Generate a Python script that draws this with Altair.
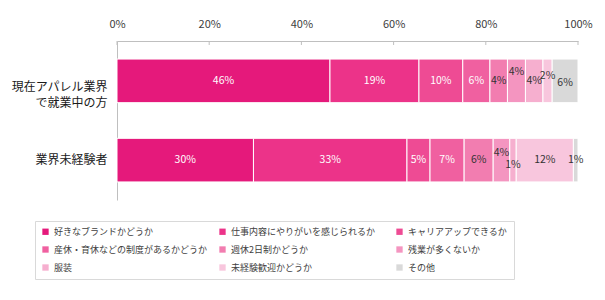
import altair as alt
import pandas as pd

groups = ["現在アパレル業界\nで就業中の方", "業界未経験者"]
categories = [
    "好きなブランドかどうか",
    "仕事内容にやりがいを感じられるか",
    "キャリアアップできるか",
    "産休・育休などの制度があるかどうか",
    "週休2日制かどうか",
    "残業が多くないか",
    "服装",
    "未経験歓迎かどうか",
    "その他",
]
current_workers = [46.2, 19.3, 9.5, 5.9, 3.8, 3.9, 3.8, 2.0, 5.6]
inexperienced = [29.6, 33.3, 5.0, 7.4, 6.3, 3.6, 1.4, 12.4, 1.0]
colors = ["#e5197b", "#ec3389", "#ee4b94", "#f060a0", "#f27db0",
          "#f495c0", "#f6afcf", "#f8c6dd", "#d9d9d9"]
x_ticks = [0, 0.2, 0.4, 0.6, 0.8, 1.0]
# small vertical nudges of crowded labels, as in the reference (pixels)
label_nudge_current = [0, 0, 0, 0, 0, -9, 0, -5, 2]
label_nudge_inexp = [0, 0, 0, 0, 0, -7, 5, 0, 0]

rows = []
for g, vals, nudges in [(groups[0], current_workers, label_nudge_current),
                        (groups[1], inexperienced, label_nudge_inexp)]:
    for i, (c, v, n) in enumerate(zip(categories, vals, nudges)):
        rows.append({"group": g, "category": c, "idx": i, "value": v / 100,
                     "label": f"{round(v)}%", "dy": n})
df = pd.DataFrame(rows)
ticks_df = pd.DataFrame({"t": x_ticks})

FONT = "Noto Sans CJK JP"
PAD_INNER = 0.45
PAD_OUTER = 0.228

x_scale = alt.Scale(domain=[0, 1], nice=False)
y_scale = alt.Scale(paddingInner=PAD_INNER, paddingOuter=PAD_OUTER)

base = alt.Chart(df).transform_stack(
    stack="value", groupby=["group"], as_=["v0", "v1"],
    sort=[alt.SortField("idx", order="ascending")]
).transform_calculate(mid="(datum.v0 + datum.v1) / 2")

bars = base.mark_bar(stroke="white", strokeWidth=1).encode(
    x=alt.X("v0:Q", scale=x_scale,
            axis=alt.Axis(orient="top", values=x_ticks, format="%", title=None,
                          grid=False, ticks=False, labelPadding=12,
                          labelFontSize=11, labelColor="#404040", labelFont=FONT,
                          domainColor="#bfbfbf", labelFlush=False)),
    x2="v1:Q",
    y=alt.Y("group:N", sort=groups, scale=y_scale,
            axis=alt.Axis(title=None, ticks=False, labelFontSize=12,
                          labelFont=FONT, labelColor="#1a1a1a", labelPadding=10,
                          labelLineHeight=16, domainColor="#bfbfbf",
                          labelOffset={"condition": {"test": "datum.value != '業界未経験者'",
                                                     "value": 6}, "value": 0},
                          labelExpr="split(datum.label, '\\n')")),
    color=alt.Color("category:N", scale=alt.Scale(domain=categories, range=colors),
                    legend=alt.Legend(orient="none", legendX=-82, legendY=180,
                                      direction="horizontal",
                                      columns=3, title=None,
                                      symbolType="square",
                                      symbolSize=40, symbolStrokeWidth=0,
                                      labelFont=FONT, labelFontSize=9,
                                      labelColor="#404040", padding=6,
                                      strokeColor="#d9d9d9", columnPadding=10,
                                      rowPadding=8, gridAlign="all",
                                      labelOffset=4)),
)

# text is placed at the band start when yOffset is used, so shift by half a band
half_band = "(159 / (2 - %f + 2 * %f)) * (1 - %f) / 2" % (PAD_INNER, PAD_OUTER, PAD_INNER)
texts = base.transform_calculate(ypix="datum.dy + " + half_band).mark_text(
    fontSize=10.5, font=FONT
).encode(
    x=alt.X("mid:Q", scale=x_scale),
    y=alt.Y("group:N", sort=groups, scale=y_scale),
    yOffset=alt.YOffset("ypix:Q", scale=None),
    text="label:N",
    color=alt.condition("datum.idx < 4", alt.value("white"), alt.value("#333333")),
)

tick_marks = alt.Chart(ticks_df).mark_rule(color="#bfbfbf").encode(
    x=alt.X("t:Q", scale=x_scale),
    y=alt.value(0),
    y2=alt.value(4),
)

chart = alt.layer(bars, texts, tick_marks).properties(
    width=461, height=159,
    autosize=alt.AutoSizeParams(type="none"),
    padding={"left": 117, "top": 41, "right": 27, "bottom": 100},
).configure_view(stroke=None)

chart.save("out.html", embed_options={"renderer": "svg", "actions": False})
